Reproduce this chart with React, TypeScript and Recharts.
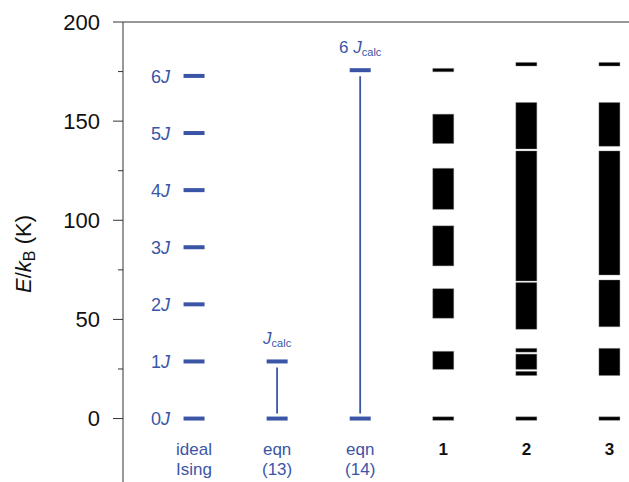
import { ComposedChart, Bar, Line, XAxis, YAxis, ReferenceLine } from 'recharts';

const BLUE = '#3b55a6';
const FONT = '"Liberation Sans", Arial, Helvetica, sans-serif';

// columns of the level diagram
const categories = ['ideal Ising', 'eqn (13)', 'eqn (14)', '1', '2', '3'];
const categoryLines = [['ideal', 'Ising'], ['eqn', '(13)'], ['eqn', '(14)'], ['1'], ['2'], ['3']];
const categoryBlue = [true, true, true, false, false, false];

// ideal Ising ladder: n * J
const J = 28.8;
const isingMultiples = [0, 1, 2, 3, 4, 5, 6];
const isingTags = ['0', '1', '2', '3', '4', '5', '6'];

// eqn (13) and eqn (14) levels (K)
const eqn13Levels = [0, 28.8];
const eqn13Tags = [null, ''];
const eqn14Levels = [0, 175.7];
const eqn14Tags = [null, '6 '];

// computed energy bands [low, high] (K) for systems 1, 2, 3
const band1 = [[-0.9, 0.9], [24.8, 33.9], [50.6, 65.5], [77.0, 97.2], [105.5, 126.2], [138.7, 153.5], [174.9, 176.6]];
const band2 = [[-0.9, 0.9], [21.7, 23.8], [24.8, 32.5], [33.5, 35.4], [45.0, 68.6], [69.4, 135.0], [136.0, 159.4], [177.8, 179.6]];
const band3 = [[-0.9, 0.9], [21.7, 35.4], [46.3, 69.9], [72.4, 135.0], [137.3, 159.4], [177.8, 179.6]];

const yTicks = [0, 25, 50, 75, 100, 125, 150, 175, 200];
const yLabelled = [0, 50, 100, 150, 200];

const levelSets = [isingMultiples.map((n) => n * J), eqn13Levels, eqn14Levels, [], [], []];
const tagSets = [isingTags, eqn13Tags, eqn14Tags, [], [], []];
const tagSide = ['left', 'top', 'top', '', '', ''];
const bandSets = [[], [], [], band1, band2, band3];

const LEVEL_KEYS = 7;
const BAND_KEYS = 8;

const rows = categories.map((name, i) => {
  const row: Record<string, any> = { name, idx: i, side: tagSide[i] };
  levelSets[i].forEach((v, k) => {
    row[`d${k}`] = v;
    row[`t${k}`] = tagSets[i][k];
  });
  bandSets[i].forEach((b, k) => {
    row[`b${k}`] = b;
  });
  if (i === 1 || i === 2) row.span = [Math.min(...levelSets[i]), Math.max(...levelSets[i])];
  return row;
});

const makeDot = (k: number) => (props: any) => {
  const { cx, cy, payload, index } = props;
  const key = `dot-${k}-${index}`;
  if (payload?.[`d${k}`] == null || cx == null || cy == null || isNaN(cy)) return <g key={key} />;
  const tag = payload[`t${k}`];
  return (
    <g key={key}>
      <rect x={cx - 10.5} y={cy - 2} width={21} height={4} fill={BLUE} />
      {tag != null && payload.side === 'left' && (
        <text x={cx - 24} y={cy} dy="0.38em" textAnchor="end" fontSize={18} fill={BLUE} fontFamily={FONT}>
          {tag}
          <tspan fontStyle="italic">J</tspan>
        </text>
      )}
      {tag != null && payload.side === 'top' && (
        <text x={cx} y={cy - 17} textAnchor="middle" fontSize={17} fill={BLUE} fontFamily={FONT}>
          {tag}
          <tspan fontStyle="italic">J</tspan>
          <tspan fontSize={11} dy={3}>calc</tspan>
        </text>
      )}
    </g>
  );
};

const SpanLine = (props: any) => {
  const { x, y, width, height } = props;
  if (x == null || !height) return <g />;
  const cx = x + width / 2;
  return <line x1={cx} x2={cx} y1={y + 6} y2={y + height - 5} stroke={BLUE} strokeWidth={1.8} />;
};

const YTick = (props: any) => {
  const { x, y, payload } = props;
  const major = yLabelled.includes(payload.value);
  return (
    <g>
      <line x1={x - (major ? 10 : 5)} x2={x} y1={y} y2={y} stroke="#333" strokeWidth={1} />
      {major && (
        <text x={x - 23} y={y} dy="0.36em" textAnchor="end" fontSize={22} fill="#111" fontFamily={FONT}>
          {payload.value}
        </text>
      )}
    </g>
  );
};

const XTick = (props: any) => {
  const { x, y, index } = props;
  const lines = categoryLines[index] ?? [];
  const blue = categoryBlue[index];
  return (
    <g>
      {lines.map((t, j) => (
        <text
          key={j}
          x={x}
          y={y - 27 + j * 20}
          textAnchor="middle"
          fontSize={17}
          fontWeight={blue ? 'normal' : 'bold'}
          fill={blue ? BLUE : '#111'}
          fontFamily={FONT}
        >
          {t}
        </text>
      ))}
    </g>
  );
};

const YLabel = (props: any) => {
  const vb = props.viewBox ?? { x: 0, y: 22, height: 460 };
  const cx = 31;
  const cy = vb.y + 232;
  return (
    <text x={cx} y={cy} transform={`rotate(-90 ${cx} ${cy})`} textAnchor="middle" fontSize={22} fill="#111" fontFamily={FONT}>
      <tspan fontStyle="italic">E</tspan>
      <tspan>/</tspan>
      <tspan fontStyle="italic">k</tspan>
      <tspan fontSize={16} dy={4}>B</tspan>
      <tspan dy={-4}> (K)</tspan>
    </text>
  );
};

export default function App() {
  return (
    <div style={{ position: 'absolute', left: 0, top: 0, width: 629, height: 482, overflow: 'hidden', background: '#fff' }}>
      <ComposedChart
        width={651}
        height={512}
        data={rows}
        margin={{ top: 22, right: 0, bottom: 0, left: 0 }}
        barSize={21}
        barGap={-21}
      >
        <XAxis
          dataKey="name"
          type="category"
          height={30}
          padding={{ left: 29.5, right: 0 }}
          axisLine={false}
          tickLine={false}
          tickSize={0}
          tickMargin={0}
          tick={<XTick />}
          interval={0}
        />
        <YAxis
          type="number"
          domain={[-32, 200]}
          ticks={yTicks}
          width={123}
          tickLine={false}
          tickSize={0}
          tickMargin={0}
          axisLine={{ stroke: '#333', strokeWidth: 1 }}
          tick={<YTick />}
          interval={0}
          allowDataOverflow
          label={{ content: <YLabel /> }}
        />
        <ReferenceLine y={200} stroke="#333" strokeWidth={1} />
        <Bar dataKey="span" shape={<SpanLine />} isAnimationActive={false} />
        {Array.from({ length: BAND_KEYS }, (_, k) => (
          <Bar key={`b${k}`} dataKey={`b${k}`} fill="#000" stroke="#888" strokeWidth={0.4} isAnimationActive={false} />
        ))}
        {Array.from({ length: LEVEL_KEYS }, (_, k) => (
          <Line
            key={`d${k}`}
            dataKey={`d${k}`}
            stroke="none"
            dot={makeDot(k)}
            activeDot={false}
            isAnimationActive={false}
          />
        ))}
      </ComposedChart>
    </div>
  );
}
